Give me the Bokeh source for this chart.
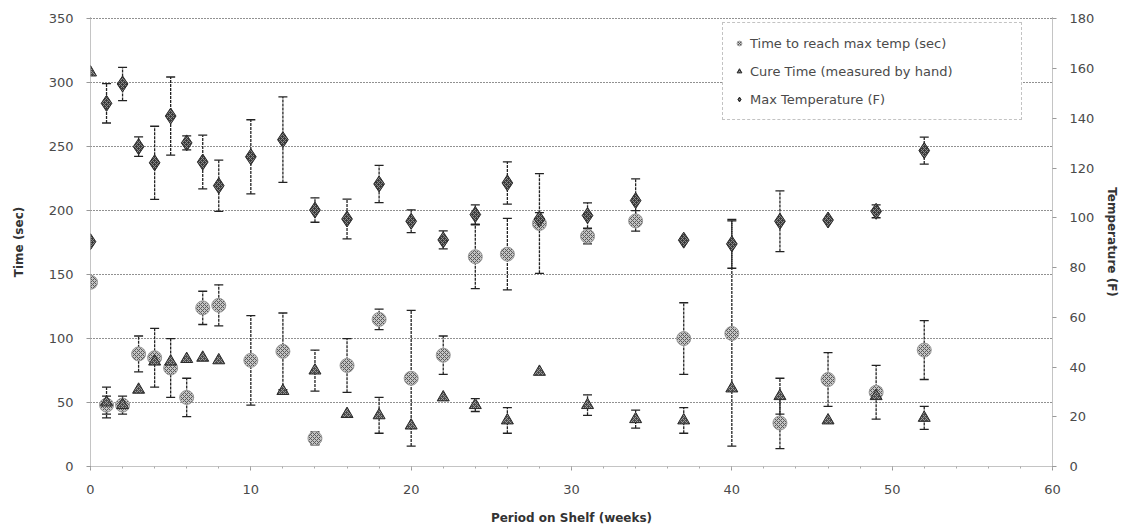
from bokeh.plotting import figure
from bokeh.models import (Range1d, LinearAxis, Whisker, ColumnDataSource, Legend,
                          LegendItem, FixedTicker, TeeHead)
from bokeh.embed import file_html
from bokeh.resources import INLINE

# ---------------- data ----------------
weeks_time = [0, 1, 2, 3, 4, 5, 6, 7, 8, 10, 12, 14, 16, 18, 20, 22, 24, 26, 28, 31, 34, 37, 40, 43, 46, 49, 52]
time_to_max = [144, 48, 48, 88, 85, 77, 54, 124, 126, 83, 90, 22, 79, 115, 69, 87, 164, 166, 190, 180, 192, 100, 104, 34, 68, 58, 91]
time_to_max_err = [0, 7, 7, 14, 23, 23, 15, 13, 16, 35, 30, 5, 21, 8, 53, 15, 25, 28, 39, 6, 8, 28, 88, 20, 21, 21, 23]

weeks_cure = [0, 1, 2, 3, 4, 5, 6, 7, 8, 12, 14, 16, 18, 20, 22, 24, 26, 28, 31, 34, 37, 40, 43, 46, 49, 52]
cure_time = [308, 50, 48, 60, 82, 82, 84, 85, 83, 59, 75, 41, 40, 32, 54, 48, 36, 74, 48, 37, 36, 61, 55, 36, 55, 38]
cure_err = [0, 12, 0, 0, 0, 0, 0, 0, 0, 0, 16, 0, 14, 0, 0, 5, 10, 0, 8, 7, 10, 0, 14, 0, 0, 9]

weeks_temp = [0, 1, 2, 3, 4, 5, 6, 7, 8, 10, 12, 14, 16, 18, 20, 22, 24, 26, 28, 31, 34, 37, 40, 43, 46, 49, 52]
max_temp = [90.4, 146, 153.8, 128.6, 122.1, 140.9, 130.1, 122.4, 112.9, 124.5, 131.4, 103.1, 99.5, 113.6, 98.6,
            91.1, 101.3, 114, 99.5, 100.9, 106.9, 91, 89.5, 98.6, 99.1, 102.6, 127]
max_temp_err = [0, 7.9, 6.7, 3.9, 14.7, 15.7, 2.8, 10.8, 10.3, 14.9, 17.2, 4.9, 8, 7.5, 4.6, 3.6, 3.9, 8.5, 2.6,
                5.1, 8.7, 0, 9.8, 12.2, 0, 2.6, 5.4]

x_ticks = [0, 10, 20, 30, 40, 50, 60]
time_ticks = [0, 50, 100, 150, 200, 250, 300, 350]
temp_ticks = [0, 20, 40, 60, 80, 100, 120, 140, 160, 180]

labels = ["Time to reach max temp (sec)", "Cure Time (measured by hand)", "Max Temperature (F)"]

FONT = "DejaVu Sans"
TXT = "#4a4a4a"

# tiny headroom so the 350 gridline is not clipped at the frame edge
TIME_TOP = 351
TEMP_TOP = 180 * TIME_TOP / 350

p = figure(frame_width=962, frame_height=449,
           x_range=Range1d(0, 60), y_range=Range1d(0, TIME_TOP),
           output_backend="svg", toolbar_location=None,
           min_border_left=90, min_border_right=66, min_border_top=17, min_border_bottom=40)
p.extra_y_ranges = {"temp": Range1d(0, TEMP_TOP)}
p.outline_line_color = None
p.background_fill_color = "white"

# axes
for ax in (p.xaxis[0], p.yaxis[0]):
    ax.major_label_text_font = FONT
    ax.major_label_text_font_size = "13px"
    ax.major_label_text_color = TXT
    ax.axis_label_text_font = FONT
    ax.axis_label_text_font_size = "12px"
    ax.axis_label_text_font_style = "bold"
    ax.axis_label_text_color = "#333333"
    ax.axis_line_color = "#888888"
    ax.axis_line_dash = "1 1"
    ax.major_tick_line_color = "#999999"
    ax.major_tick_in = 0
    ax.major_tick_out = 4

p.xaxis.ticker = FixedTicker(ticks=x_ticks, minor_ticks=list(range(0, 61, 2)))
p.xaxis.minor_tick_line_color = "#aaaaaa"
p.xaxis.minor_tick_in = 0
p.xaxis.minor_tick_out = 2
p.xaxis.axis_label = "Period on Shelf (weeks)"
p.xaxis.major_label_standoff = 14
p.xaxis.axis_label_standoff = 14

p.yaxis.ticker = FixedTicker(ticks=time_ticks)
p.yaxis.minor_tick_line_color = None
p.yaxis.axis_label = "Time (sec)"
p.yaxis.major_label_standoff = 13
p.yaxis.axis_label_standoff = 20

right = LinearAxis(y_range_name="temp", axis_label="Temperature (F)",
                   ticker=FixedTicker(ticks=temp_ticks))
right.major_label_text_font = FONT
right.major_label_text_font_size = "13px"
right.major_label_text_color = TXT
right.axis_label_text_font = FONT
right.axis_label_text_font_size = "12px"
right.axis_label_text_font_style = "bold"
right.axis_label_text_color = "#333333"
right.axis_line_color = "#888888"
right.axis_line_dash = "1 1"
right.major_tick_line_color = "#999999"
right.major_tick_in = 0
right.major_tick_out = 4
right.minor_tick_line_color = None
right.major_label_standoff = 13
right.axis_label_standoff = 8
p.add_layout(right, "right")

p.xgrid.grid_line_color = None
p.ygrid.ticker = FixedTicker(ticks=time_ticks)
p.ygrid.grid_line_color = "#222222"
p.ygrid.grid_line_dash = "1 2"
p.ygrid.grid_line_width = 1


def add_err(xs, ys, es, range_name="default"):
    sel = [i for i, e in enumerate(es) if e > 0]
    src = ColumnDataSource(dict(
        x=[xs[i] for i in sel],
        lo=[ys[i] - es[i] for i in sel],
        hi=[ys[i] + es[i] for i in sel]))
    w = Whisker(base="x", lower="lo", upper="hi", source=src, dimension="height",
                line_color="#222222", line_dash="3 1", line_width=1.3,
                upper_head=TeeHead(size=9, line_color="#222222", line_width=1.3),
                lower_head=TeeHead(size=9, line_color="#222222", line_width=1.3),
                level="underlay", y_range_name=range_name)
    p.add_layout(w)


add_err(weeks_time, time_to_max, time_to_max_err)
add_err(weeks_cure, cure_time, cure_err)
add_err(weeks_temp, max_temp, max_temp_err, "temp")

r_time = p.scatter(weeks_time, time_to_max, marker="circle", size=14,
                   fill_color="#c4c4c4", line_color="#9a9a9a",
                   hatch_pattern="x", hatch_color="#5a5a5a", hatch_scale=4, hatch_weight=1)
r_cure = p.scatter(weeks_cure, cure_time, marker="triangle", size=12,
                   fill_color="#4a4a4a", line_color="#2a2a2a",
                   hatch_pattern="x", hatch_color="#9a9a9a", hatch_scale=4, hatch_weight=1)
r_temp = p.scatter(weeks_temp, max_temp, marker="diamond", size=16, y_range_name="temp",
                   fill_color="#3a3a3a", line_color="#2a2a2a",
                   hatch_pattern="x", hatch_color="#8a8a8a", hatch_scale=4, hatch_weight=1)

legend = Legend(items=[LegendItem(label=labels[0], renderers=[r_time]),
                       LegendItem(label=labels[1], renderers=[r_cure]),
                       LegendItem(label=labels[2], renderers=[r_temp])],
                location=(632, 346))
legend.label_text_font = FONT
legend.label_text_font_size = "13px"
legend.label_text_color = TXT
legend.label_width = 261
legend.glyph_width = 12
legend.glyph_height = 20
legend.label_standoff = 5
legend.spacing = 8
legend.padding = 10
legend.margin = 0
legend.border_line_color = "#888888"
legend.border_line_dash = "1 2"
legend.background_fill_alpha = 1
p.add_layout(legend)

open("out.html", "w").write(file_html(p, INLINE))
